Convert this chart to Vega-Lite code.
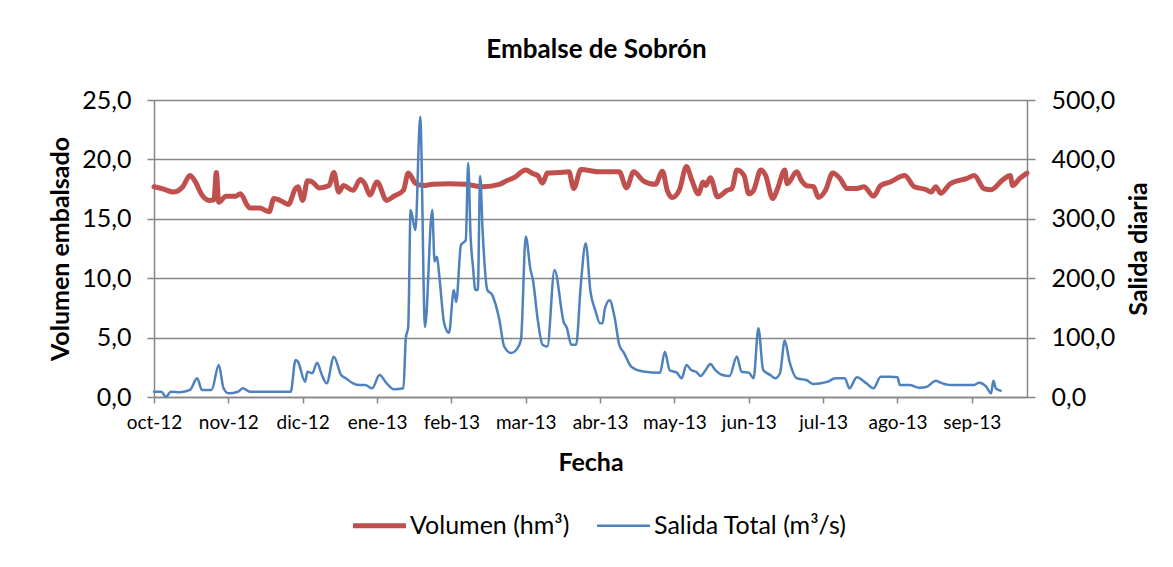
{
  "$schema": "https://vega.github.io/schema/vega-lite/v6.json",
  "width": 873,
  "height": 297,
  "autosize": {"type": "none"},
  "padding": {"left": 154, "top": 100, "right": 146, "bottom": 170},
  "background": "white",
  "config": {
    "font": "Lato",
    "view": {"stroke": null},
    "axis": {
      "domainColor": "#868686",
      "tickColor": "#868686",
      "domainWidth": 1.5,
      "tickWidth": 1.5,
      "labelColor": "black",
      "titleColor": "black",
      "titleFontWeight": "bold",
      "titleFontSize": 25
    }
  },
  "title": {
    "text": "Embalse de Sobrón",
    "fontSize": 26,
    "fontWeight": "bold",
    "color": "black",
    "anchor": "middle",
    "offset": 25,
    "dx": 6
  },
  "datasets": {
    "volumen": [
      {"fecha": "2012-10-01", "valor": 17.7},
      {"fecha": "2012-10-05", "valor": 17.5},
      {"fecha": "2012-10-09", "valor": 17.25},
      {"fecha": "2012-10-13", "valor": 17.7},
      {"fecha": "2012-10-16", "valor": 18.65},
      {"fecha": "2012-10-18", "valor": 18.2},
      {"fecha": "2012-10-21", "valor": 17.0},
      {"fecha": "2012-10-24", "valor": 16.55},
      {"fecha": "2012-10-26", "valor": 16.6},
      {"fecha": "2012-10-27", "valor": 18.9},
      {"fecha": "2012-10-28", "valor": 16.4},
      {"fecha": "2012-10-31", "valor": 16.9},
      {"fecha": "2012-11-04", "valor": 16.9},
      {"fecha": "2012-11-06", "valor": 17.1},
      {"fecha": "2012-11-09", "valor": 16.1},
      {"fecha": "2012-11-10", "valor": 15.9},
      {"fecha": "2012-11-14", "valor": 15.9},
      {"fecha": "2012-11-18", "valor": 15.6},
      {"fecha": "2012-11-20", "valor": 16.7},
      {"fecha": "2012-11-24", "valor": 16.4},
      {"fecha": "2012-11-26", "valor": 16.2},
      {"fecha": "2012-11-29", "valor": 17.55},
      {"fecha": "2012-11-30", "valor": 17.7},
      {"fecha": "2012-12-02", "valor": 16.55},
      {"fecha": "2012-12-04", "valor": 18.2},
      {"fecha": "2012-12-06", "valor": 18.1},
      {"fecha": "2012-12-09", "valor": 17.6},
      {"fecha": "2012-12-13", "valor": 17.8},
      {"fecha": "2012-12-15", "valor": 18.9},
      {"fecha": "2012-12-17", "valor": 17.25},
      {"fecha": "2012-12-19", "valor": 17.8},
      {"fecha": "2012-12-23", "valor": 17.4},
      {"fecha": "2012-12-26", "valor": 18.3},
      {"fecha": "2012-12-28", "valor": 17.9},
      {"fecha": "2012-12-30", "valor": 17.0},
      {"fecha": "2013-01-02", "valor": 18.1},
      {"fecha": "2013-01-06", "valor": 16.55},
      {"fecha": "2013-01-09", "valor": 16.9},
      {"fecha": "2013-01-13", "valor": 17.4},
      {"fecha": "2013-01-15", "valor": 18.85},
      {"fecha": "2013-01-18", "valor": 18.0},
      {"fecha": "2013-01-21", "valor": 17.8},
      {"fecha": "2013-01-25", "valor": 17.9},
      {"fecha": "2013-02-01", "valor": 17.95},
      {"fecha": "2013-02-08", "valor": 17.9},
      {"fecha": "2013-02-15", "valor": 17.7},
      {"fecha": "2013-02-22", "valor": 17.9},
      {"fecha": "2013-02-25", "valor": 18.2},
      {"fecha": "2013-02-28", "valor": 18.45},
      {"fecha": "2013-03-05", "valor": 19.1},
      {"fecha": "2013-03-08", "valor": 18.8},
      {"fecha": "2013-03-10", "valor": 18.65},
      {"fecha": "2013-03-12", "valor": 18.0},
      {"fecha": "2013-03-14", "valor": 18.85},
      {"fecha": "2013-03-19", "valor": 18.9},
      {"fecha": "2013-03-23", "valor": 18.95},
      {"fecha": "2013-03-25", "valor": 17.55},
      {"fecha": "2013-03-28", "valor": 19.15},
      {"fecha": "2013-04-05", "valor": 18.95},
      {"fecha": "2013-04-13", "valor": 18.95},
      {"fecha": "2013-04-16", "valor": 17.6},
      {"fecha": "2013-04-19", "valor": 18.95},
      {"fecha": "2013-04-23", "valor": 18.2},
      {"fecha": "2013-04-28", "valor": 17.9},
      {"fecha": "2013-05-01", "valor": 19.0},
      {"fecha": "2013-05-03", "valor": 17.4},
      {"fecha": "2013-05-05", "valor": 16.8},
      {"fecha": "2013-05-08", "valor": 17.4},
      {"fecha": "2013-05-11", "valor": 19.4},
      {"fecha": "2013-05-13", "valor": 18.4},
      {"fecha": "2013-05-16", "valor": 17.1},
      {"fecha": "2013-05-18", "valor": 18.1},
      {"fecha": "2013-05-19", "valor": 17.8},
      {"fecha": "2013-05-21", "valor": 18.45},
      {"fecha": "2013-05-24", "valor": 16.85},
      {"fecha": "2013-05-28", "valor": 17.4},
      {"fecha": "2013-05-30", "valor": 17.55},
      {"fecha": "2013-06-01", "valor": 19.1},
      {"fecha": "2013-06-04", "valor": 18.65},
      {"fecha": "2013-06-06", "valor": 17.1},
      {"fecha": "2013-06-08", "valor": 17.4},
      {"fecha": "2013-06-11", "valor": 19.1},
      {"fecha": "2013-06-13", "valor": 18.65},
      {"fecha": "2013-06-16", "valor": 16.7},
      {"fecha": "2013-06-18", "valor": 17.55},
      {"fecha": "2013-06-21", "valor": 19.1},
      {"fecha": "2013-06-22", "valor": 17.95},
      {"fecha": "2013-06-26", "valor": 18.95},
      {"fecha": "2013-06-28", "valor": 18.2},
      {"fecha": "2013-06-30", "valor": 17.8},
      {"fecha": "2013-07-03", "valor": 17.7},
      {"fecha": "2013-07-05", "valor": 16.8},
      {"fecha": "2013-07-08", "valor": 17.4},
      {"fecha": "2013-07-11", "valor": 18.85},
      {"fecha": "2013-07-14", "valor": 18.4},
      {"fecha": "2013-07-17", "valor": 17.55},
      {"fecha": "2013-07-21", "valor": 17.55},
      {"fecha": "2013-07-24", "valor": 17.7},
      {"fecha": "2013-07-28", "valor": 16.9},
      {"fecha": "2013-07-31", "valor": 17.8},
      {"fecha": "2013-08-04", "valor": 18.1},
      {"fecha": "2013-08-10", "valor": 18.65},
      {"fecha": "2013-08-14", "valor": 17.7},
      {"fecha": "2013-08-19", "valor": 17.45},
      {"fecha": "2013-08-21", "valor": 17.25},
      {"fecha": "2013-08-23", "valor": 17.7},
      {"fecha": "2013-08-25", "valor": 17.15},
      {"fecha": "2013-08-29", "valor": 17.95},
      {"fecha": "2013-09-05", "valor": 18.4},
      {"fecha": "2013-09-08", "valor": 18.65},
      {"fecha": "2013-09-12", "valor": 17.55},
      {"fecha": "2013-09-15", "valor": 17.45},
      {"fecha": "2013-09-20", "valor": 18.3},
      {"fecha": "2013-09-23", "valor": 18.65},
      {"fecha": "2013-09-24", "valor": 17.8},
      {"fecha": "2013-09-27", "valor": 18.4},
      {"fecha": "2013-09-30", "valor": 18.85}
    ],
    "salida": [
      {"fecha": "2012-10-01", "valor": 8.9},
      {"fecha": "2012-10-04", "valor": 8.9},
      {"fecha": "2012-10-06", "valor": 0.5},
      {"fecha": "2012-10-08", "valor": 8.9},
      {"fecha": "2012-10-12", "valor": 8.0},
      {"fecha": "2012-10-16", "valor": 11.8},
      {"fecha": "2012-10-19", "valor": 31.5},
      {"fecha": "2012-10-21", "valor": 11.8},
      {"fecha": "2012-10-25", "valor": 11.8},
      {"fecha": "2012-10-28", "valor": 53.9},
      {"fecha": "2012-10-30", "valor": 14.6},
      {"fecha": "2012-11-01", "valor": 6.2},
      {"fecha": "2012-11-05", "valor": 8.9},
      {"fecha": "2012-11-07", "valor": 14.6},
      {"fecha": "2012-11-10", "valor": 8.9},
      {"fecha": "2012-11-17", "valor": 8.9},
      {"fecha": "2012-11-23", "valor": 8.9},
      {"fecha": "2012-11-27", "valor": 8.9},
      {"fecha": "2012-11-29", "valor": 62.3},
      {"fecha": "2012-11-30", "valor": 59.5},
      {"fecha": "2012-12-03", "valor": 25.8},
      {"fecha": "2012-12-04", "valor": 42.6},
      {"fecha": "2012-12-06", "valor": 39.9},
      {"fecha": "2012-12-08", "valor": 57.8},
      {"fecha": "2012-12-10", "valor": 37.0},
      {"fecha": "2012-12-12", "valor": 23.1},
      {"fecha": "2012-12-15", "valor": 67.9},
      {"fecha": "2012-12-18", "valor": 37.0},
      {"fecha": "2012-12-20", "valor": 31.5},
      {"fecha": "2012-12-23", "valor": 23.1},
      {"fecha": "2012-12-26", "valor": 20.2},
      {"fecha": "2012-12-28", "valor": 20.2},
      {"fecha": "2012-12-31", "valor": 14.6},
      {"fecha": "2013-01-03", "valor": 37.0},
      {"fecha": "2013-01-06", "valor": 23.1},
      {"fecha": "2013-01-09", "valor": 13.0},
      {"fecha": "2013-01-13", "valor": 14.6},
      {"fecha": "2013-01-14", "valor": 98.9},
      {"fecha": "2013-01-15", "valor": 118},
      {"fecha": "2013-01-16", "valor": 315},
      {"fecha": "2013-01-18", "valor": 281},
      {"fecha": "2013-01-20", "valor": 472},
      {"fecha": "2013-01-22", "valor": 118},
      {"fecha": "2013-01-25", "valor": 315},
      {"fecha": "2013-01-26", "valor": 228},
      {"fecha": "2013-01-27", "valor": 236},
      {"fecha": "2013-01-28", "valor": 202},
      {"fecha": "2013-01-30", "valor": 124},
      {"fecha": "2013-02-01", "valor": 108},
      {"fecha": "2013-02-03", "valor": 180},
      {"fecha": "2013-02-04", "valor": 160},
      {"fecha": "2013-02-06", "valor": 256},
      {"fecha": "2013-02-08", "valor": 264},
      {"fecha": "2013-02-09", "valor": 394},
      {"fecha": "2013-02-10", "valor": 270},
      {"fecha": "2013-02-11", "valor": 219},
      {"fecha": "2013-02-12", "valor": 180},
      {"fecha": "2013-02-13", "valor": 180},
      {"fecha": "2013-02-14", "valor": 372},
      {"fecha": "2013-02-15", "valor": 281},
      {"fecha": "2013-02-17", "valor": 180},
      {"fecha": "2013-02-19", "valor": 172},
      {"fecha": "2013-02-22", "valor": 130},
      {"fecha": "2013-02-24", "valor": 85},
      {"fecha": "2013-02-27", "valor": 74},
      {"fecha": "2013-03-01", "valor": 79},
      {"fecha": "2013-03-03", "valor": 96},
      {"fecha": "2013-03-05", "valor": 270},
      {"fecha": "2013-03-07", "valor": 214},
      {"fecha": "2013-03-08", "valor": 197},
      {"fecha": "2013-03-10", "valor": 130},
      {"fecha": "2013-03-12", "valor": 88},
      {"fecha": "2013-03-14", "valor": 85},
      {"fecha": "2013-03-17", "valor": 214},
      {"fecha": "2013-03-21", "valor": 124},
      {"fecha": "2013-03-22", "valor": 118},
      {"fecha": "2013-03-24", "valor": 88},
      {"fecha": "2013-03-26", "valor": 88},
      {"fecha": "2013-03-28", "valor": 191},
      {"fecha": "2013-03-30", "valor": 259},
      {"fecha": "2013-04-01", "valor": 177},
      {"fecha": "2013-04-03", "valor": 146},
      {"fecha": "2013-04-05", "valor": 124},
      {"fecha": "2013-04-06", "valor": 124},
      {"fecha": "2013-04-07", "valor": 149},
      {"fecha": "2013-04-09", "valor": 163},
      {"fecha": "2013-04-11", "valor": 135},
      {"fecha": "2013-04-13", "valor": 88},
      {"fecha": "2013-04-15", "valor": 74},
      {"fecha": "2013-04-18", "valor": 51},
      {"fecha": "2013-04-23", "valor": 43},
      {"fecha": "2013-04-30", "valor": 41},
      {"fecha": "2013-05-02", "valor": 76},
      {"fecha": "2013-05-04", "valor": 45},
      {"fecha": "2013-05-07", "valor": 41},
      {"fecha": "2013-05-09", "valor": 31.5},
      {"fecha": "2013-05-11", "valor": 54},
      {"fecha": "2013-05-13", "valor": 45.5},
      {"fecha": "2013-05-15", "valor": 42.6},
      {"fecha": "2013-05-17", "valor": 35.4},
      {"fecha": "2013-05-19", "valor": 45.5},
      {"fecha": "2013-05-21", "valor": 55.6},
      {"fecha": "2013-05-23", "valor": 45.5},
      {"fecha": "2013-05-26", "valor": 37},
      {"fecha": "2013-05-29", "valor": 35.4},
      {"fecha": "2013-06-01", "valor": 68},
      {"fecha": "2013-06-03", "valor": 42.6},
      {"fecha": "2013-06-06", "valor": 41},
      {"fecha": "2013-06-08", "valor": 31.5},
      {"fecha": "2013-06-10", "valor": 115.7},
      {"fecha": "2013-06-12", "valor": 45.5},
      {"fecha": "2013-06-15", "valor": 37},
      {"fecha": "2013-06-17", "valor": 31.5},
      {"fecha": "2013-06-19", "valor": 40},
      {"fecha": "2013-06-21", "valor": 95},
      {"fecha": "2013-06-23", "valor": 59},
      {"fecha": "2013-06-26", "valor": 31.5},
      {"fecha": "2013-06-30", "valor": 28.6},
      {"fecha": "2013-07-03", "valor": 21.9},
      {"fecha": "2013-07-06", "valor": 23.1},
      {"fecha": "2013-07-09", "valor": 25.8},
      {"fecha": "2013-07-12", "valor": 31.5},
      {"fecha": "2013-07-16", "valor": 31.5},
      {"fecha": "2013-07-18", "valor": 14.6},
      {"fecha": "2013-07-21", "valor": 33.2},
      {"fecha": "2013-07-25", "valor": 23.1},
      {"fecha": "2013-07-28", "valor": 14.6},
      {"fecha": "2013-07-31", "valor": 34.2},
      {"fecha": "2013-08-04", "valor": 34.2},
      {"fecha": "2013-08-07", "valor": 33.2},
      {"fecha": "2013-08-08", "valor": 20.2},
      {"fecha": "2013-08-12", "valor": 20.2},
      {"fecha": "2013-08-16", "valor": 15.7},
      {"fecha": "2013-08-19", "valor": 16.8},
      {"fecha": "2013-08-23", "valor": 27.4},
      {"fecha": "2013-08-25", "valor": 24.1},
      {"fecha": "2013-08-29", "valor": 20.2},
      {"fecha": "2013-09-08", "valor": 20.2},
      {"fecha": "2013-09-10", "valor": 24.1},
      {"fecha": "2013-09-13", "valor": 17.3},
      {"fecha": "2013-09-15", "valor": 6.2},
      {"fecha": "2013-09-16", "valor": 27.4},
      {"fecha": "2013-09-17", "valor": 14.6},
      {"fecha": "2013-09-19", "valor": 10.6}
    ]
  },
  "encoding": {
    "x": {
      "field": "fecha",
      "type": "temporal",
      "scale": {
        "type": "utc",
        "domain": [
          {"year": 2012, "month": 10, "date": 1, "utc": true},
          {"year": 2013, "month": 9, "date": 30, "utc": true}
        ]
      },
      "axis": {
        "title": "Fecha",
        "grid": false,
        "values": [
          {"year": 2012, "month": 10, "date": 1, "utc": true},
          {"year": 2012, "month": 11, "date": 1, "utc": true},
          {"year": 2012, "month": 12, "date": 2, "utc": true},
          {"year": 2013, "month": 1, "date": 2, "utc": true},
          {"year": 2013, "month": 2, "date": 2, "utc": true},
          {"year": 2013, "month": 3, "date": 5, "utc": true},
          {"year": 2013, "month": 4, "date": 5, "utc": true},
          {"year": 2013, "month": 5, "date": 6, "utc": true},
          {"year": 2013, "month": 6, "date": 6, "utc": true},
          {"year": 2013, "month": 7, "date": 7, "utc": true},
          {"year": 2013, "month": 8, "date": 7, "utc": true},
          {"year": 2013, "month": 9, "date": 7, "utc": true}
        ],
        "labelExpr": "['ene','feb','mar','abr','may','jun','jul','ago','sep','oct','nov','dic'][utcmonth(datum.value)] + '-' + utcFormat(datum.value, '%y')",
        "labelFontSize": 19,
        "labelPadding": 10,
        "labelFlush": false,
        "labelOverlap": false,
        "tickSize": 6,
        "titleY": 65,
        "titleBaseline": "middle"
      }
    }
  },
  "layer": [
    {
      "data": {"name": "volumen"},
      "mark": {"type": "line", "strokeWidth": 5, "strokeCap": "round", "strokeJoin": "round", "interpolate": "monotone"},
      "encoding": {
        "y": {
          "field": "valor",
          "type": "quantitative",
          "scale": {"domain": [0, 25]},
          "axis": {
            "orient": "left",
            "title": "Volumen embalsado",
            "values": [0, 5, 10, 15, 20, 25],
            "labelExpr": "replace(format(datum.value, '.1f'), '.', ',')",
            "labelFontSize": 25,
            "labelPadding": 16,
            "grid": true,
            "gridColor": "#868686",
            "gridWidth": 1.5,
            "tickSize": 7,
            "titleX": -94,
            "titleY": 148.5,
            "titleAngle": 270,
            "titleAlign": "center",
            "titleBaseline": "middle"
          }
        },
        "color": {
          "datum": "Volumen (hm³)",
          "scale": {
            "domain": ["Volumen (hm³)", "Salida Total (m³/s)"],
            "range": ["#C0504D", "#4F81BD"]
          },
          "legend": {
            "title": null,
            "orient": "none",
            "direction": "horizontal",
            "legendX": 213,
            "legendY": 413,
            "symbolType": "stroke",
            "symbolSize": 2809,
            "symbolStrokeWidth": 4,
            "labelFontSize": 25,
            "labelLimit": 0,
            "labelColor": "black",
            "labelOffset": 18,
            "columnPadding": 22,
            "padding": 0,
            "encode": {
              "symbols": {
                "update": {
                  "strokeWidth": {"signal": "datum.value == 'Volumen (hm³)' ? 5 : 2.5"}
                }
              }
            }
          }
        }
      }
    },
    {
      "data": {"name": "salida"},
      "mark": {"type": "line", "strokeWidth": 2.5, "strokeCap": "round", "strokeJoin": "round", "interpolate": "monotone"},
      "encoding": {
        "y": {
          "field": "valor",
          "type": "quantitative",
          "scale": {"domain": [0, 500]},
          "axis": {
            "orient": "right",
            "title": "Salida diaria",
            "values": [0, 100, 200, 300, 400, 500],
            "labelExpr": "replace(format(datum.value, '.1f'), '.', ',')",
            "labelFontSize": 25,
            "labelPadding": 16,
            "grid": false,
            "tickSize": 8,
            "titleX": 111,
            "titleY": 148.5,
            "titleAngle": 270,
            "titleAlign": "center",
            "titleBaseline": "middle"
          }
        },
        "color": {"datum": "Salida Total (m³/s)"}
      }
    }
  ],
  "resolve": {"scale": {"y": "independent"}}
}
